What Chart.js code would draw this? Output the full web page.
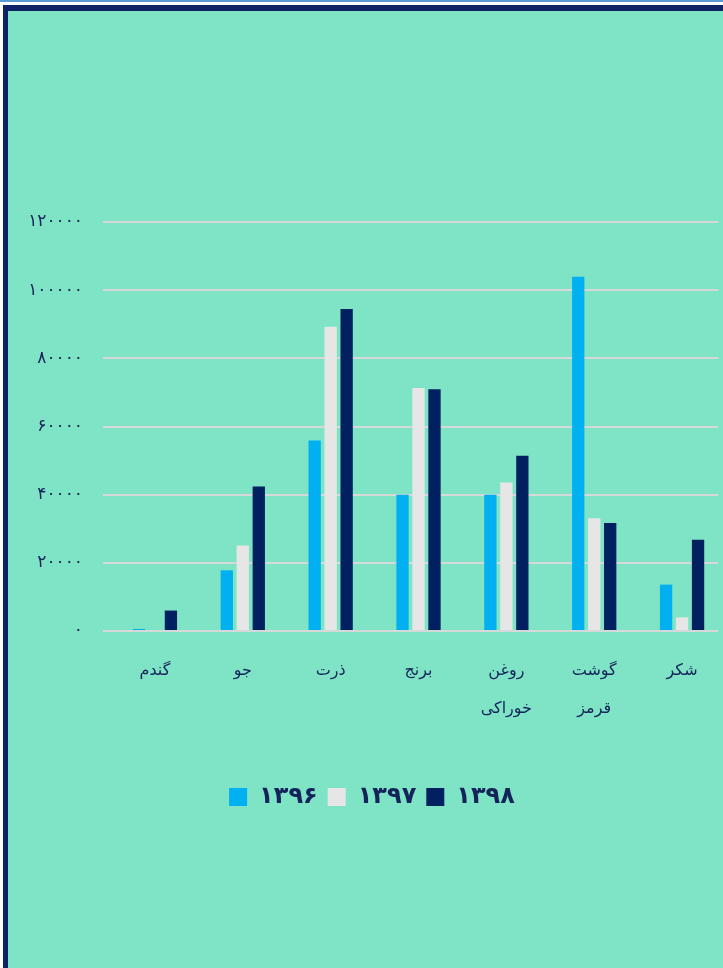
<!DOCTYPE html>
<html lang="fa">
<head>
<meta charset="utf-8">
<script src="https://cdn.jsdelivr.net/npm/chart.js@4.4.1/dist/chart.umd.min.js"></script>
<style>
  html, body { margin: 0; padding: 0; background: #ffffff; width: 723px; height: 968px; overflow: hidden; }
  #strip { position: absolute; left: 0; top: 0; width: 723px; height: 2px; background: #5b9bd5; }
  #frame { position: absolute; left: 3px; top: 5px; width: 740px; height: 980px;
           background: #7fe4c5; border-left: 5px solid #0d2366; border-top: 6px solid #0d2366; }
  #c { position: absolute; left: 0; top: 0; }
</style>
</head>
<body>
<div id="strip"></div>
<div id="frame"></div>
<canvas id="c" width="723" height="968"></canvas>
<script>
const categories = ['گندم', 'جو', 'ذرت', 'برنج', ['روغن', 'خوراکی'], ['گوشت', 'قرمز'], 'شکر'];
const seriesNames = ['۱۳۹۶', '۱۳۹۷', '۱۳۹۸'];
const values1396 = [600, 17800, 55900, 40000, 40000, 103900, 13600];
const values1397 = [0, 25100, 89300, 71300, 43600, 33100, 4000];
const values1398 = [6000, 42400, 94500, 70900, 51400, 31700, 26800];
const yTickLabels = ['۰', '۲۰۰۰۰', '۴۰۰۰۰', '۶۰۰۰۰', '۸۰۰۰۰', '۱۰۰۰۰۰', '۱۲۰۰۰۰'];

const colors = ['#00b0f0', '#e7e6e6', '#002060'];
const textColor = '#14245a';

// category i sits at x = i; the plotted groups sit slightly right of the grid centre, as in the reference
const xShift = 8 / 87.86;
const toPoints = (arr) => arr.map((v, i) => ({ x: i, y: v }));

const legendShift = {
  id: 'legendShift',
  afterLayout(chart) {
    const l = chart.legend;
    if (l) { l.left += 13; l.right += 13; }
  }
};

new Chart(document.getElementById('c'), {
  type: 'bar',
  data: {
    datasets: [
      { label: seriesNames[0], data: toPoints(values1396), backgroundColor: colors[0] },
      { label: seriesNames[1], data: toPoints(values1397), backgroundColor: colors[1] },
      { label: seriesNames[2], data: toPoints(values1398), backgroundColor: colors[2] }
    ]
  },
  plugins: [legendShift],
  options: {
    responsive: false,
    devicePixelRatio: 1,
    animation: false,
    datasets: { bar: { categoryPercentage: 0.546, barPercentage: 0.77 } },
    layout: { padding: { top: 222, right: 5, bottom: 149, left: 0 } },
    scales: {
      x: {
        type: 'linear',
        min: -0.5 - xShift,
        max: categories.length - 0.5 - xShift,
        offset: false,
        grid: { display: false, drawTicks: false },
        border: { display: false },
        afterBuildTicks: (s) => {
          s.ticks = categories.map((c, i) => ({ value: i }));
        },
        ticks: {
          color: textColor,
          padding: 21,
          maxRotation: 0,
          autoSkip: false,
          font: { family: 'DejaVu Sans', size: 16, lineHeight: 2.35 },
          callback: (v) => categories[v]
        },
        afterFit: (s) => { s.height = 144; }
      },
      y: {
        min: 0, max: 120000,
        grid: { color: '#d6d9d8', lineWidth: 2, drawTicks: false },
        border: { display: false },
        ticks: {
          stepSize: 20000,
          color: textColor,
          padding: 20,
          font: { family: 'DejaVu Sans', size: 17 },
          callback: (v, i) => yTickLabels[i]
        },
        afterFit: (s) => { s.width = 103; }
      }
    },
    plugins: {
      tooltip: { enabled: false },
      legend: {
        position: 'bottom',
        labels: {
          color: textColor,
          boxWidth: 18,
          boxHeight: 18,
          padding: 10,
          font: { family: 'DejaVu Sans', size: 24, weight: 'bold' }
        }
      }
    }
  }
});
</script>
</body>
</html>
